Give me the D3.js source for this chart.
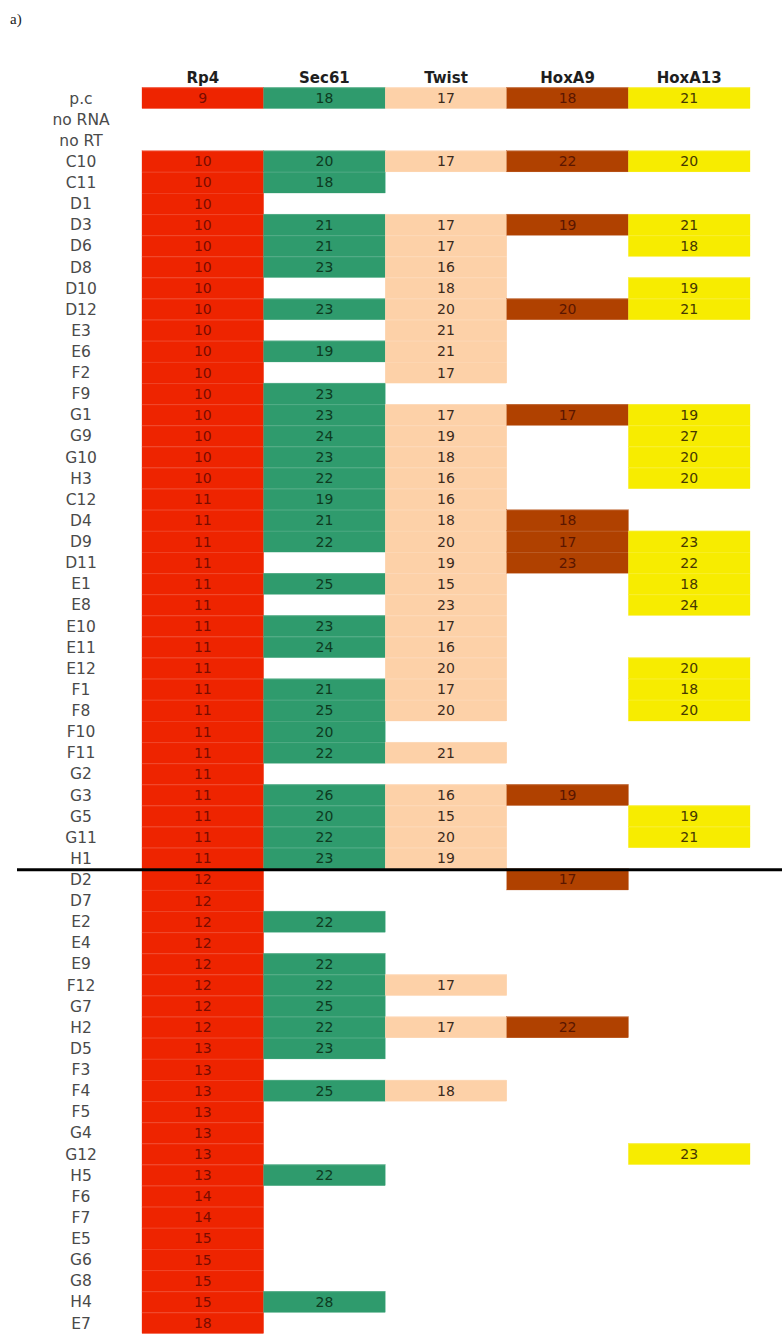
<!DOCTYPE html>
<html>
<head>
<meta charset="utf-8">
<script src="https://cdn.jsdelivr.net/npm/d3@7"></script>
<style>
  html, body { margin: 0; padding: 0; background: #ffffff; }
  svg { display: block; }
</style>
</head>
<body>
<script>
// Ct values per sample (rows) and gene (columns); null = no amplification
const genes = ["Rp4", "Sec61", "Twist", "HoxA9", "HoxA13"];

const samples = ["p.c","no RNA","no RT","C10","C11","D1","D3","D6","D8","D10","D12","E3","E6","F2","F9","G1","G9","G10","H3",
  "C12","D4","D9","D11","E1","E8","E10","E11","E12","F1","F8","F10","F11","G2","G3","G5","G11","H1",
  "D2","D7","E2","E4","E9","F12","G7","H2","D5","F3","F4","F5","G4","G12","H5","F6","F7","E5","G6","G8","H4","E7"];

const rp4 = [9,null,null,10,10,10,10,10,10,10,10,10,10,10,10,10,10,10,10,
  11,11,11,11,11,11,11,11,11,11,11,11,11,11,11,11,11,11,
  12,12,12,12,12,12,12,12,13,13,13,13,13,13,13,14,14,15,15,15,15,18];

const sec61 = [18,null,null,20,18,null,21,21,23,null,23,null,19,null,23,23,24,23,22,
  19,21,22,null,25,null,23,24,null,21,25,20,22,null,26,20,22,23,
  null,null,22,null,22,22,25,22,23,null,25,null,null,null,22,null,null,null,null,null,28,null];

const twist = [17,null,null,17,null,null,17,17,16,18,20,21,21,17,null,17,19,18,16,
  16,18,20,19,15,23,17,16,20,17,20,null,21,null,16,15,20,19,
  null,null,null,null,null,17,null,17,null,null,18,null,null,null,null,null,null,null,null,null,null,null];

const hoxA9 = [18,null,null,22,null,null,19,null,null,null,20,null,null,null,null,17,null,null,null,
  null,18,17,23,null,null,null,null,null,null,null,null,null,null,19,null,null,null,
  17,null,null,null,null,null,null,22,null,null,null,null,null,null,null,null,null,null,null,null,null,null];

const hoxA13 = [21,null,null,20,null,null,21,18,null,19,21,null,null,null,null,19,27,20,20,
  null,null,23,22,18,24,null,null,20,18,20,null,null,null,null,19,21,null,
  null,null,null,null,null,null,null,null,null,null,null,null,null,23,null,null,null,null,null,null,null,null];

const series = [rp4, sec61, twist, hoxA9, hoxA13];

// Index of the first sample below the divider
const dividerBefore = "D2";

const fills = ["#ee2400", "#2f9b6d", "#fdd1a8", "#b04100", "#f7ec00"];
const inks  = ["#7a0c00", "#0d3a1f", "#3b2a1c", "#5a1600", "#463800"];

const W = 782, H = 1334;
const svg = d3.select("body").append("svg").attr("width", W).attr("height", H);

const x = d3.scaleBand().domain(genes).range([142, 750]).paddingInner(0);
const y = d3.scaleBand().domain(samples).range([87.4, 87.4 + 21.12 * samples.length]).paddingInner(0);

const font = "'DejaVu Sans', Verdana, sans-serif";

// Panel tag
svg.append("text")
  .attr("x", 10).attr("y", 24)
  .attr("font-family", "'Liberation Serif', 'DejaVu Serif', serif")
  .attr("font-size", 15)
  .attr("fill", "#222")
  .text("a)");

// Column headers
svg.append("g").selectAll("text")
  .data(genes)
  .join("text")
  .attr("x", d => x(d) + x.bandwidth() / 2)
  .attr("y", 83)
  .attr("text-anchor", "middle")
  .attr("font-family", font)
  .attr("font-weight", "bold")
  .attr("font-size", 15)
  .attr("fill", "#1e1e1e")
  .text(d => d);

// Row labels
svg.append("g").selectAll("text")
  .data(samples)
  .join("text")
  .attr("x", 81)
  .attr("y", d => y(d) + y.bandwidth() / 2)
  .attr("dy", "0.36em")
  .attr("text-anchor", "middle")
  .attr("font-family", font)
  .attr("font-size", 15.5)
  .attr("fill", "#4a4a4a")
  .text(d => d);

// Cells
const cells = [];
genes.forEach((g, gi) => {
  series[gi].forEach((v, si) => {
    if (v != null) cells.push({ gene: g, gi, sample: samples[si], value: v });
  });
});

const cellG = svg.append("g");
cellG.selectAll("rect")
  .data(cells)
  .join("rect")
  .attr("x", d => x(d.gene))
  .attr("y", d => y(d.sample))
  .attr("width", x.bandwidth())
  .attr("height", y.bandwidth())
  .attr("fill", d => fills[d.gi])
  .attr("stroke", d => fills[d.gi])
  .attr("stroke-width", 0.3);

// Faint cell separators inside runs of filled cells
cellG.selectAll("line")
  .data(cells)
  .join("line")
  .attr("x1", d => x(d.gene))
  .attr("x2", d => x(d.gene) + x.bandwidth())
  .attr("y1", d => y(d.sample) + 0.5)
  .attr("y2", d => y(d.sample) + 0.5)
  .attr("stroke", "#ffffff")
  .attr("stroke-opacity", 0.12)
  .attr("stroke-width", 1);

cellG.selectAll("text")
  .data(cells)
  .join("text")
  .attr("x", d => x(d.gene) + x.bandwidth() / 2)
  .attr("y", d => y(d.sample) + y.bandwidth() / 2)
  .attr("dy", "0.36em")
  .attr("text-anchor", "middle")
  .attr("font-family", font)
  .attr("font-size", 14)
  .attr("fill", d => inks[d.gi])
  .text(d => d.value);

// Divider between the two sample groups
const yDiv = y(dividerBefore);
svg.append("line")
  .attr("x1", 17).attr("x2", W)
  .attr("y1", yDiv + 1).attr("y2", yDiv + 1)
  .attr("stroke", "#000")
  .attr("stroke-width", 3);
</script>
</body>
</html>
